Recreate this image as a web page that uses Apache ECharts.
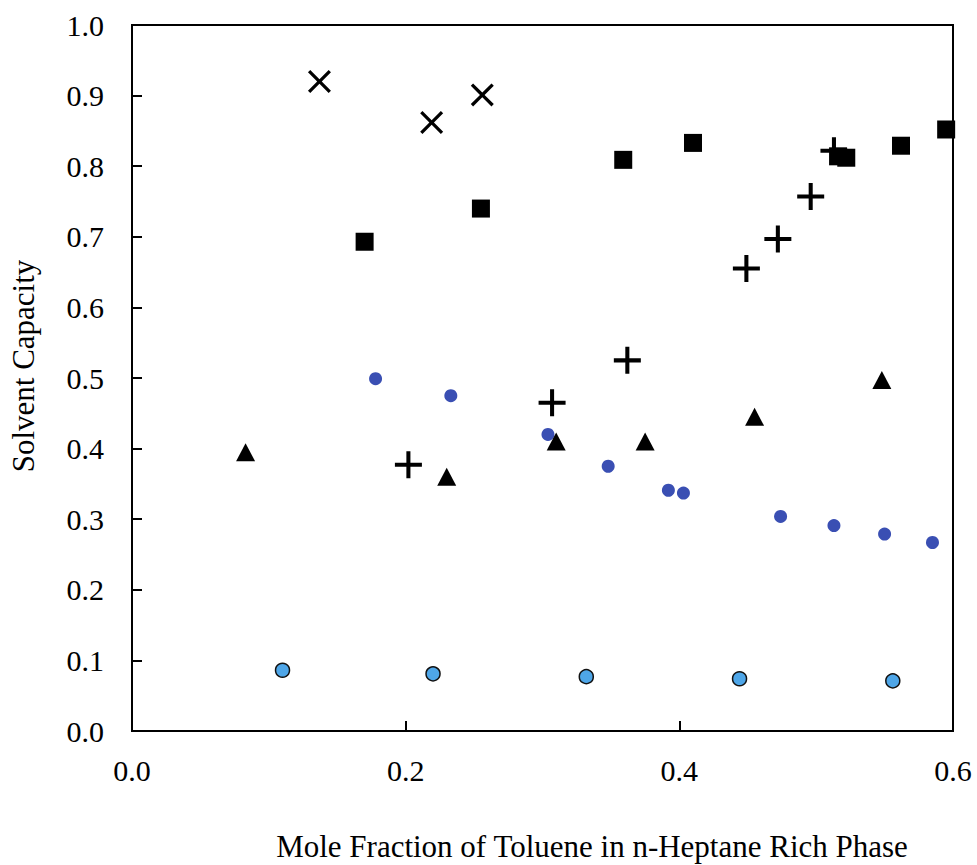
<!DOCTYPE html>
<html>
<head>
<meta charset="utf-8">
<script src="https://cdn.jsdelivr.net/npm/echarts@6/dist/echarts.min.js"></script>
<style>
  html, body { margin: 0; padding: 0; background: #fff; }
  #chart { width: 977px; height: 865px; }
</style>
</head>
<body>
<div id="chart"></div>
<script>
// Solvent capacity vs. toluene mole fraction, six solvent systems
const crossX  = [0.137, 0.219, 0.256];
const crossY  = [0.920, 0.862, 0.901];

const squareX = [0.170, 0.255, 0.359, 0.410, 0.516, 0.522, 0.562, 0.595];
const squareY = [0.693, 0.740, 0.809, 0.833, 0.814, 0.812, 0.829, 0.852];

const plusX   = [0.202, 0.307, 0.362, 0.449, 0.472, 0.496, 0.513];
const plusY   = [0.377, 0.465, 0.525, 0.655, 0.697, 0.757, 0.822];

const triX    = [0.083, 0.230, 0.310, 0.375, 0.455, 0.548];
const triY    = [0.395, 0.360, 0.410, 0.410, 0.445, 0.497];

const dotX    = [0.178, 0.233, 0.304, 0.348, 0.392, 0.403, 0.474, 0.513, 0.550, 0.585];
const dotY    = [0.499, 0.475, 0.420, 0.375, 0.341, 0.337, 0.304, 0.291, 0.279, 0.267];

const ringX   = [0.110, 0.220, 0.332, 0.444, 0.556];
const ringY   = [0.086, 0.081, 0.077, 0.074, 0.071];

const xTicks = { min: 0, max: 0.6, step: 0.2 };
const yTicks = { min: 0, max: 1.0, step: 0.1 };

const zip = (xs, ys) => xs.map((x, i) => [x, ys[i]]);

const FONT = '"Liberation Serif", "Times New Roman", serif';
const INK = '#000';

// filled outlines for the stroke-like marks
const PLUS_PATH  = 'path://M4.25,0H5.75V4.25H10V5.75H5.75V10H4.25V5.75H0V4.25H4.25Z';
const CROSS_PATH = 'path://M0,1L1,0L5,4L9,0L10,1L6,5L10,9L9,10L5,6L1,10L0,9L4,5Z';

const chart = echarts.init(document.getElementById('chart'), null, { renderer: 'svg' });

const marks = (xs, ys, symbol, size, style) => ({
  type: 'scatter',
  data: zip(xs, ys),
  symbol: symbol,
  symbolSize: size,
  itemStyle: Object.assign({ opacity: 1 }, style),
  emphasis: { disabled: true }
});

chart.setOption({
  animation: false,
  backgroundColor: '#fff',
  grid: {
    left: 132, right: 24, top: 25, bottom: 134,
    show: true, borderColor: '#000', borderWidth: 2, backgroundColor: 'transparent'
  },
  xAxis: {
    type: 'value',
    min: xTicks.min, max: xTicks.max, interval: xTicks.step,
    axisLine: { lineStyle: { color: '#000', width: 2 } },
    axisTick: { inside: true, length: 10, lineStyle: { color: '#000', width: 2 } },
    splitLine: { show: false },
    axisLabel: {
      margin: 24, fontFamily: FONT, fontSize: 30, color: INK,
      formatter: v => v.toFixed(1)
    }
  },
  yAxis: {
    type: 'value',
    min: yTicks.min, max: yTicks.max, interval: yTicks.step,
    axisLine: { lineStyle: { color: '#000', width: 2 } },
    axisTick: { inside: true, length: 10, lineStyle: { color: '#000', width: 2 } },
    splitLine: { show: false },
    axisLabel: {
      margin: 28, fontFamily: FONT, fontSize: 30, color: INK,
      formatter: v => v.toFixed(1)
    }
  },
  graphic: [
    {
      type: 'text', x: 592, y: 846,
      style: {
        text: 'Mole Fraction of Toluene in n-Heptane Rich Phase',
        font: '31px ' + FONT, fill: INK, align: 'center', verticalAlign: 'middle'
      }
    },
    {
      type: 'text', x: 23, y: 366, rotation: Math.PI / 2,
      style: {
        text: 'Solvent Capacity',
        font: '31px ' + FONT, fill: INK, align: 'center', verticalAlign: 'middle'
      }
    }
  ],
  series: [
    marks(ringX, ringY, 'circle', 14, { color: '#4ea6e8', borderColor: '#111', borderWidth: 1.5 }),
    marks(dotX, dotY, 'circle', 13, { color: '#3a4fb3' }),
    marks(triX, triY, 'triangle', [19, 18], { color: '#000' }),
    marks(plusX, plusY, PLUS_PATH, 27, { color: '#000' }),
    marks(squareX, squareY, 'rect', 18, { color: '#000' }),
    marks(crossX, crossY, CROSS_PATH, 23, { color: '#000' })
  ]
});
</script>
</body>
</html>
